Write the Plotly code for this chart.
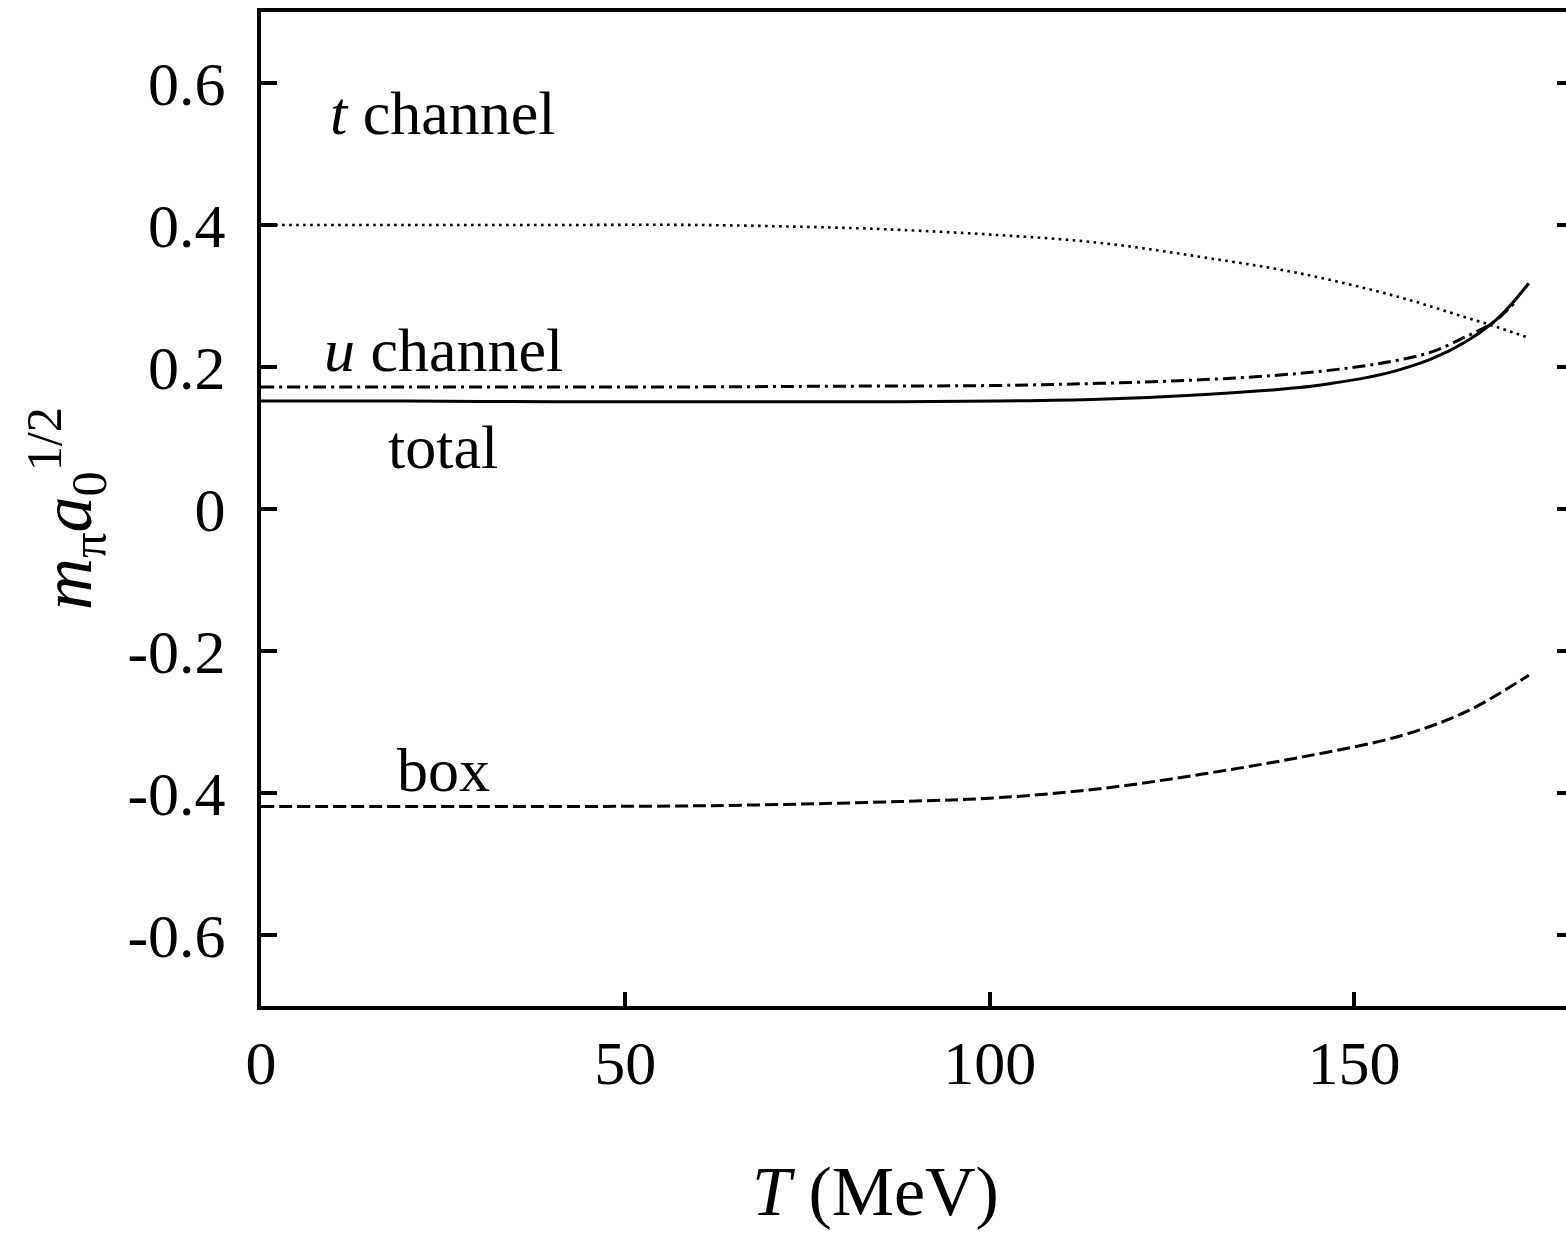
import plotly.graph_objects as go

# ---- data ----
T_t = [0, 20, 40, 60, 80, 88, 101, 115, 129, 142.5, 156, 165, 170, 174]
v_t = [0.400, 0.400, 0.400, 0.400, 0.396, 0.393, 0.386, 0.375, 0.355, 0.332, 0.299, 0.271, 0.255, 0.241]

T_u = [0, 20, 40, 60, 80, 101, 115, 129, 142.5, 151.7, 156.2, 160.8, 165.4, 169, 172]
v_u = [0.172, 0.172, 0.172, 0.172, 0.173, 0.174, 0.177, 0.182, 0.191, 0.202, 0.210, 0.2216, 0.243, 0.262, 0.290]

T_tot = [0, 20, 40, 60, 80, 101, 115, 129, 142.5, 147, 151.7, 156.2, 160.8, 165.4, 169, 171.3, 174]
v_tot = [0.152, 0.152, 0.151, 0.151, 0.151, 0.152, 0.1545, 0.161, 0.171, 0.177, 0.185, 0.196, 0.212, 0.236, 0.262, 0.285, 0.318]

T_box = [0, 30, 60.2, 87.7, 101.4, 115.1, 128.8, 142.5, 156.2, 165.4, 174]
v_box = [-0.419, -0.419, -0.418, -0.412, -0.4065, -0.394, -0.374, -0.350, -0.320, -0.2855, -0.234]

x_ticks = [0, 50, 100, 150]
y_ticks = [-0.6, -0.4, -0.2, 0, 0.2, 0.4, 0.6]
y_ticklabels = ["-0.6", "-0.4", "-0.2", "0", "0.2", "0.4", "0.6"]

labels = ["<i>t</i> channel", "<i>u</i> channel", "total", "box"]
label_x = [25, 25, 25, 25]
label_y = [0.558, 0.224, 0.087, -0.368]

FONT = "Liberation Serif"

fig = go.Figure()
fig.add_trace(go.Scatter(x=T_t, y=v_t, mode="lines", line=dict(color="black", width=2.6, dash="2.6px,4.4px", shape="spline")))
fig.add_trace(go.Scatter(x=T_u, y=v_u, mode="lines", line=dict(color="black", width=3, dash="13px,5px,3px,5px", shape="spline")))
fig.add_trace(go.Scatter(x=T_tot, y=v_tot, mode="lines", line=dict(color="black", width=3, shape="spline")))
fig.add_trace(go.Scatter(x=T_box, y=v_box, mode="lines", line=dict(color="black", width=3, dash="13px,5px", shape="spline")))
# invisible trace to activate the right-hand axis (tick marks only)
fig.add_trace(go.Scatter(x=[0], y=[0], yaxis="y2", mode="lines", line=dict(width=0), hoverinfo="skip"))

for txt, lx, ly in zip(labels, label_x, label_y):
    fig.add_annotation(x=lx, y=ly, text=txt, showarrow=False, xanchor="center", yanchor="middle",
                       font=dict(family=FONT, size=62, color="black"))

fig.add_annotation(xref="paper", yref="paper", x=0, y=0.5, xshift=-195, text="<i>m</i><sub>π</sub><i>a</i><sub>0</sub><sup>1/2</sup>",
                   textangle=-90, showarrow=False, xanchor="center", yanchor="middle",
                   font=dict(family=FONT, size=72, color="black"))
fig.add_annotation(xref="paper", yref="paper", x=0, y=0, xshift=875 - 261, yshift=-185, text="<i>T</i> (MeV)",
                   showarrow=False, xanchor="center", yanchor="middle",
                   font=dict(family=FONT, size=70, color="black"))

fig.update_layout(
    width=1566, height=1235,
    margin=dict(l=261, r=0, t=12, b=229),
    paper_bgcolor="white", plot_bgcolor="white",
    showlegend=False,
    xaxis=dict(range=[0, 179.1], tickvals=x_ticks, ticktext=[str(v) for v in x_ticks],
               ticks="inside", ticklen=14, tickwidth=4, tickcolor="black",
               showline=True, linewidth=4, linecolor="black", mirror=True,
               showgrid=False, zeroline=False, ticklabelstandoff=0,
               tickfont=dict(family=FONT, size=62, color="black")),
    yaxis=dict(range=[-0.7, 0.7], tickvals=y_ticks, ticktext=y_ticklabels,
               ticks="inside", ticklen=16, tickwidth=4, tickcolor="black",
               showline=True, linewidth=4, linecolor="black", mirror=False,
               showgrid=False, zeroline=False, ticklabelstandoff=19,
               tickfont=dict(family=FONT, size=62, color="black")),
    yaxis2=dict(range=[-0.7, 0.7], overlaying="y", side="right", tickvals=y_ticks,
                ticks="inside", ticklen=9, tickwidth=4, tickcolor="black",
                showticklabels=False, showline=False, showgrid=False, zeroline=False),
)

fig.write_html("out.html")
